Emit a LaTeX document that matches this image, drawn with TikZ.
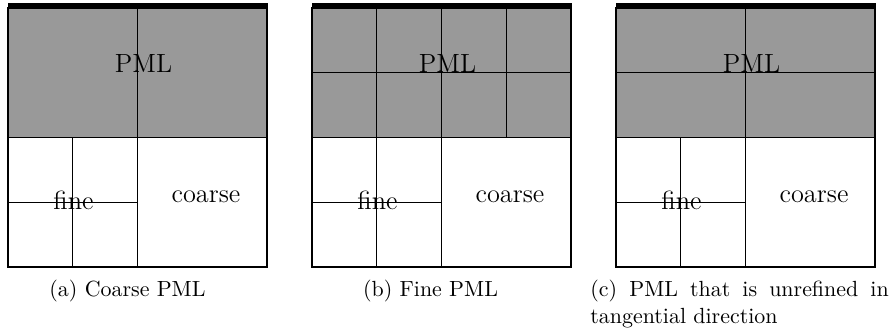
\documentclass[tikz,border=0pt]{standalone}
\definecolor{pmlgray}{RGB}{153,153,153}
\begin{document}
\begin{tikzpicture}[x=0.456pt,y=-0.456pt,
  thinline/.style={line width=0.5pt},
  coarseline/.style={line width=0.7pt},
  lbl/.style={font=\large, inner sep=0pt, anchor=base},
  capt/.style={inner sep=0pt}]
\useasboundingbox (0,0) rectangle (891,334);
% common parts of the three panels
\foreach \X in {8,312,616} {
  \fill[pmlgray] (\X,8) rectangle (\X+259,137.5);
  \draw[thinline] (\X+64.75,137.5) -- (\X+64.75,267);
  \draw[thinline] (\X,202.25) -- (\X+129.5,202.25);
  \draw[coarseline] (\X+129.5,137.5) -- (\X+129.5,267);
  \draw[coarseline] (\X,137.5) -- (\X+259,137.5);
  \draw[coarseline] (\X,8) rectangle (\X+259,267);
}
% (a) coarse PML
\draw[coarseline] (137.5,8) -- (137.5,137.5);
% (b) fine PML
\draw[thinline] (376.75,8) -- (376.75,137.5);
\draw[coarseline] (441.5,8) -- (441.5,137.5);
\draw[thinline] (506.25,8) -- (506.25,137.5);
\draw[thinline] (312,72.75) -- (571,72.75);
% (c) unrefined in tangential direction
\draw[coarseline] (745.5,8) -- (745.5,137.5);
\draw[thinline] (616,72.75) -- (875,72.75);
% thick top edges
\foreach \X in {8,312,616} {
  \fill[black] (\X-0.5,3) rectangle (\X+259.5,9.5);
}
% labels
\node[lbl] (pmla) at (143.5,72.5) {PML};
\node[lbl] (finea) at (73.5,210) {fine};
\node[lbl] (coarsea) at (206,203) {coarse};
\node[lbl] (pmlb) at (447.5,72.5) {PML};
\node[lbl] (fineb) at (377.5,210) {fine};
\node[lbl] (coarseb) at (510,203) {coarse};
\node[lbl] (pmlc) at (751.5,72.5) {PML};
\node[lbl] (finec) at (681.5,210) {fine};
\node[lbl] (coarsec) at (814,203) {coarse};
% captions
\node[capt, anchor=base] (capa) at (127.5,297) {(a) Coarse PML};
\node[capt, anchor=base] (capb) at (430.5,297) {(b) Fine PML};
\node[capt, anchor=base west, text width=136pt, align=justify] (capc) at (590,297)
  {\hyphenpenalty=10000 (c) PML that is unrefined in \mbox{tangential} direction};
\end{tikzpicture}
\end{document}
